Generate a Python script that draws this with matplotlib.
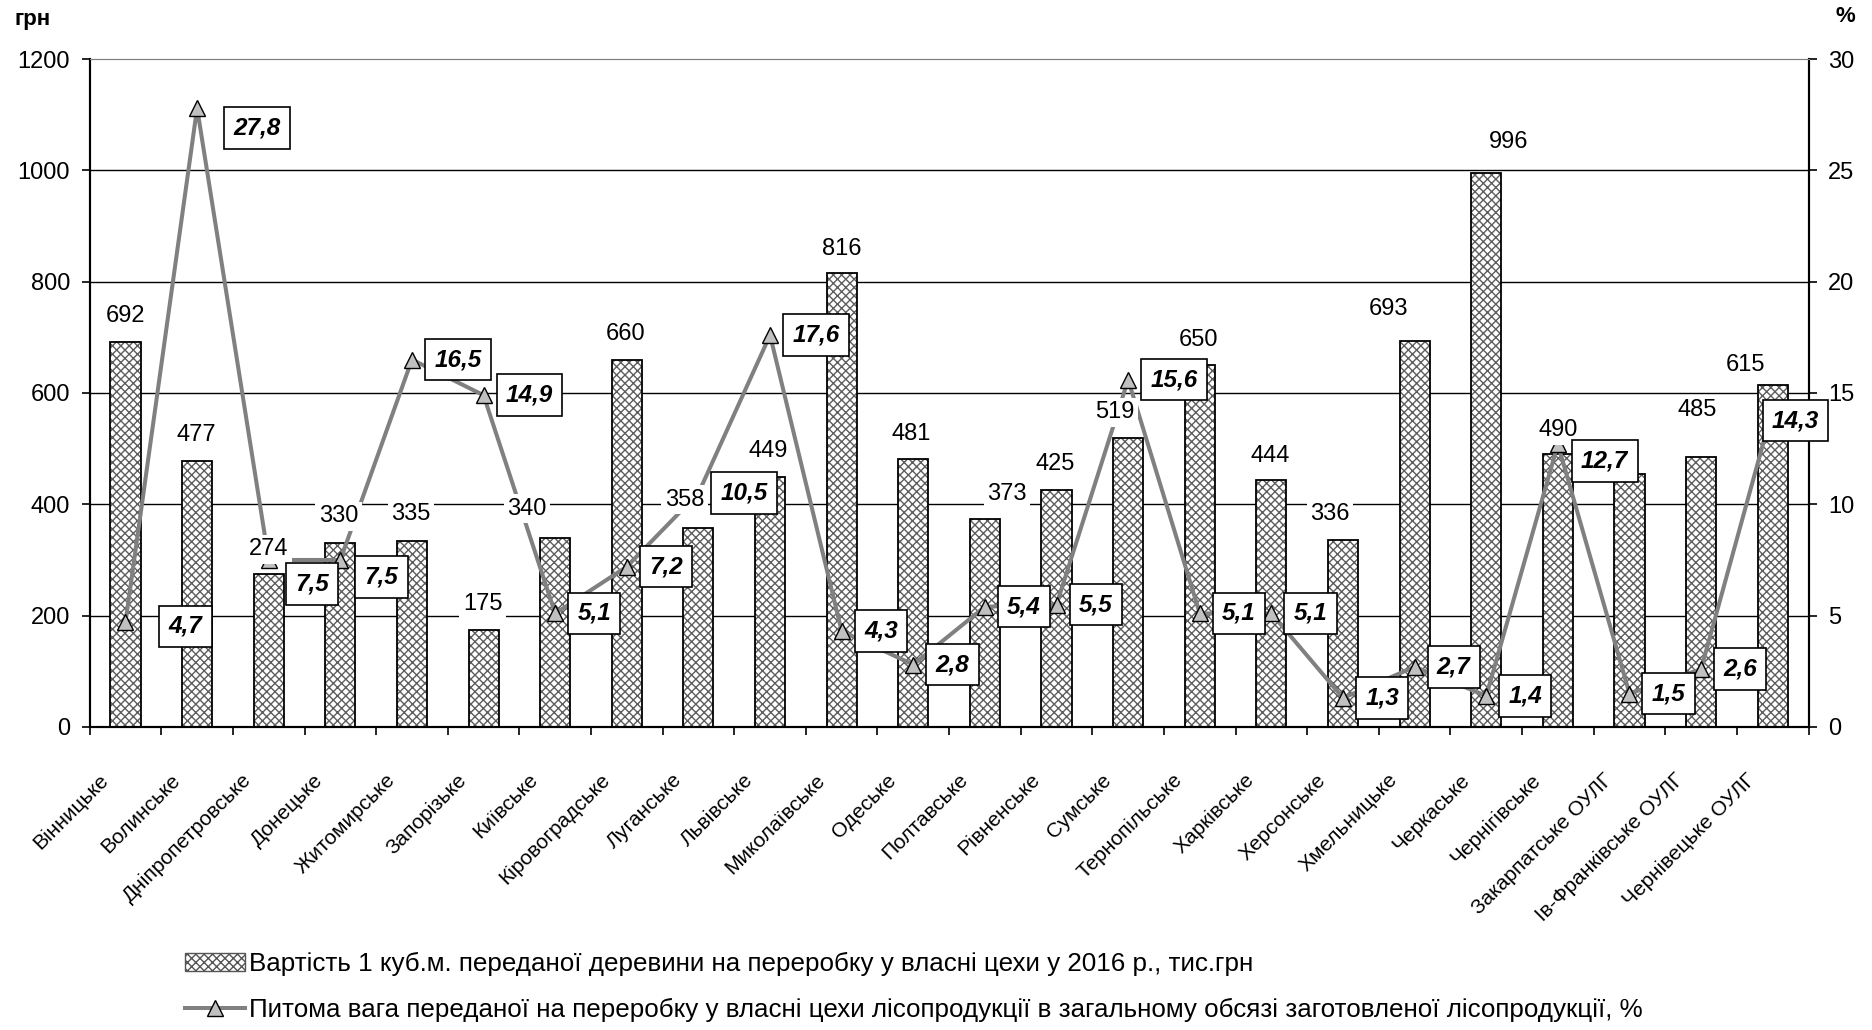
import matplotlib
matplotlib.use('Agg')
import matplotlib.pyplot as plt
from matplotlib.patches import Patch
from matplotlib.lines import Line2D
from matplotlib.transforms import ScaledTranslation
import numpy as np

plt.rcParams['font.family'] = ['Liberation Sans', 'DejaVu Sans']
plt.rcParams['hatch.linewidth'] = 1.0

# дані
regions = ['Вінницьке', 'Волинське', 'Дніпропетровське', 'Донецьке', 'Житомирське',
           'Запорізьке', 'Київське', 'Кіровоградське', 'Луганське', 'Львівське',
           'Миколаївське', 'Одеське', 'Полтавське', 'Рівненське', 'Сумське',
           'Тернопільське', 'Харківське', 'Херсонське', 'Хмельницьке', 'Черкаське',
           'Чернігівське', 'Закарпатське ОУЛГ', 'Ів-Франківське ОУЛГ', 'Чернівецьке ОУЛГ']
cost = [692, 477, 274, 330, 335, 175, 340, 660, 358, 449, 816, 481,
        373, 425, 519, 650, 444, 336, 693, 996, 490, 455, 485, 615]
share = [4.7, 27.8, 7.5, 7.5, 16.5, 14.9, 5.1, 7.2, 10.5, 17.6, 4.3, 2.8,
         5.4, 5.5, 15.6, 5.1, 5.1, 1.3, 2.7, 1.4, 12.7, 1.5, 2.6, 14.3]

label_bar = 'Вартість 1 куб.м. переданої деревини на переробку у власні цехи у 2016 р., тис.грн'
label_line = ('Питома вага переданої на переробку у власні цехи лісопродукції '
              'в загальному обсязі заготовленої лісопродукції, %')

# зсуви підписів (пікселі), як розставив Excel
bar_lbl_off = [(0, 26), (-1, 26), (0, 25), (-2, 27), (-1, 27), (-1, 26), (-28, 29), (-1, 26),
               (-14, 28), (-2, 26), (0, 24), (-2, 25), (22, 25), (-1, 26), (-13, 26), (-1, 25),
               (-1, 24), (-13, 26), (-26, 32), (22, 31), (0, 24), None, (-4, 47), (-27, 20)]
line_lbl_off = {0: (34, 4), 1: (27, 20), 2: (17, 24), 3: (15, 17), 20: (14, 17), 23: (-10, 12)}

x = np.arange(len(regions))
px = 0.72  # пікселі -> пункти при dpi=100

fig = plt.figure(figsize=(18.72, 10.30), dpi=100)
ax = fig.add_axes([0.0479, 0.2942, 0.9182, 0.6485])
ax2 = ax.twinx()

# гістограма
ax.bar(x, cost, width=0.42, color='white', edgecolor='#5e5e5e', hatch='xxxx', linewidth=0, zorder=2)
ax.bar(x, cost, width=0.42, fill=False, edgecolor='black', linewidth=1.3, zorder=2.5)
for yv in range(200, 1200, 200):
    ax.axhline(yv, color='black', linewidth=1.0, zorder=0)

ax.set_xlim(-0.5, len(regions) - 0.5)
ax.set_ylim(0, 1200)
ax.set_yticks(range(0, 1201, 200))
ax.tick_params(axis='y', length=6, width=1.2, pad=8, labelsize=17)
ax.set_xticks(x)
ax.set_xticklabels(regions, fontsize=15)
ax.set_xticks(np.arange(-0.5, len(regions), 1), minor=True)
ax.tick_params(axis='x', which='major', length=0, pad=0)
ax.tick_params(axis='x', which='minor', length=6, width=1.2)
shift = ScaledTranslation(-0.2, -0.50, fig.dpi_scale_trans)
for lbl in ax.get_xticklabels():
    lbl.set_rotation(45)
    lbl.set_ha('right')
    lbl.set_va('center')
    lbl.set_rotation_mode('anchor')
    lbl.set_transform(lbl.get_transform() + shift)

for sp in ['left', 'bottom', 'right']:
    ax.spines[sp].set_linewidth(1.5)
    ax2.spines[sp].set_linewidth(1.5)
ax.spines['top'].set_color('#808080')
ax2.spines['top'].set_color('#808080')

# лінія
ax2.plot(x, share, color='#808080', linewidth=2.9, marker='^', markersize=11,
         markerfacecolor='#c0c0c0', markeredgecolor='black', markeredgewidth=1.0, zorder=3)
ax2.set_ylim(0, 30)
ax2.set_yticks(range(0, 31, 5))
ax2.tick_params(axis='y', length=6, width=1.2, pad=8, labelsize=17)

# підписи стовпчиків
for i, c in enumerate(cost):
    off = bar_lbl_off[i]
    if off is None:
        continue
    ax2.annotate(str(c), xy=(i, c), xycoords=ax.transData,
                 xytext=(off[0] * px, off[1] * px), textcoords='offset points',
                 ha='center', va='center', fontsize=17,
                 bbox=dict(boxstyle='square,pad=0.15', fc='white', ec='none'), zorder=5)

# підписи лінії
fs = 17.5
pad = 0.38
for i, v in enumerate(share):
    gap, dy = line_lbl_off.get(i, (13, 0))
    ax2.annotate(f'{v:.1f}'.replace('.', ','), xy=(i, v),
                 xytext=(gap * px + pad * fs, -dy * px), textcoords='offset points',
                 ha='left', va='center', fontsize=fs, fontweight='bold', fontstyle='italic',
                 bbox=dict(boxstyle=f'square,pad={pad}', fc='white', ec='black', lw=1.2), zorder=6)

fig.text(15 / 1872, 1 - 19 / 1030, 'грн', fontsize=16, fontweight='bold', va='center')
fig.text(1836 / 1872, 1 - 17 / 1030, '%', fontsize=16, fontweight='bold', va='center')

handles = [Patch(facecolor='white', edgecolor='#555555', hatch='xxxx', linewidth=1.0),
           Line2D([], [], color='#808080', linewidth=2.9, marker='^', markersize=11,
                  markerfacecolor='#c0c0c0', markeredgecolor='black')]
fig.legend(handles, [label_bar, label_line], loc='upper left', bbox_to_anchor=(0.0988, 0.076),
           frameon=False, fontsize=18.7, handlelength=2.3, handletextpad=0.15,
           labelspacing=0.85, borderpad=0, borderaxespad=0)

fig.savefig('out.png', dpi=100)
